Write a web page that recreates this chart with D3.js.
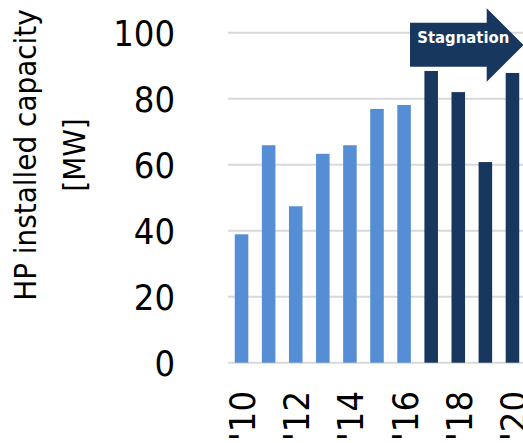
<!DOCTYPE html>
<html>
<head>
<meta charset="utf-8">
<script src="https://cdn.jsdelivr.net/npm/d3@7"></script>
<style>
  html, body { margin: 0; padding: 0; background: #ffffff; overflow: hidden; }
  svg { display: block; }
  text { font-family: "DejaVu Sans Condensed", "DejaVu Sans", sans-serif; font-stretch: condensed; }
</style>
</head>
<body>
<svg id="chart" width="523" height="443"></svg>
<script>
// Heat pump installed capacity by year (MW)
const years = ["2010", "2011", "2012", "2013", "2014", "2015", "2016", "2017", "2018", "2019", "2020"];
const capacity = [38.9, 65.9, 47.4, 63.3, 65.9, 76.9, 78.1, 88.4, 82.0, 60.8, 87.8];
const stagnating = [false, false, false, false, false, false, false, true, true, true, true];
const yTicks = [0, 20, 40, 60, 80, 100];
const xTickYears = ["2010", "2012", "2014", "2016", "2018", "2020"];
const yTitleLines = ["HP installed capacity", "[MW]"];
const arrowLabel = "Stagnation";

const svg = d3.select("#chart");
const C_GROWTH = "#558ed5";
const C_STAG = "#17375e";
const C_GRID = "#d9d9d9";

const plot = { left: 228, right: 526, top: 32.7, bottom: 362.7 };

const x = d3.scaleBand()
  .domain(years)
  .range([plot.left, plot.right])
  .paddingInner(0.5)
  .paddingOuter(0.25);

const y = d3.scaleLinear()
  .domain([0, 100])
  .range([plot.bottom, plot.top]);

// horizontal gridlines
svg.append("g")
  .selectAll("line")
  .data(yTicks)
  .join("line")
  .attr("x1", plot.left)
  .attr("x2", plot.right)
  .attr("y1", d => y(d))
  .attr("y2", d => y(d))
  .attr("stroke", C_GRID)
  .attr("stroke-width", 2);

// y axis labels
const yAxis = d3.axisLeft(y).tickValues(yTicks).tickSize(0).tickPadding(0);
const yg = svg.append("g")
  .attr("transform", "translate(175,0)")
  .call(yAxis);
yg.select(".domain").remove();
yg.selectAll("text")
  .attr("font-size", 36)
  .attr("fill", "#000")
  .attr("dy", "0.36em")
  .style("font-family", "'DejaVu Sans Condensed', 'DejaVu Sans', sans-serif");

// bars
svg.append("g")
  .selectAll("rect")
  .data(years.map((yr, i) => ({ yr, v: capacity[i], s: stagnating[i] })))
  .join("rect")
  .attr("x", d => x(d.yr))
  .attr("width", x.bandwidth())
  .attr("y", d => y(d.v))
  .attr("height", d => y(0) - y(d.v))
  .attr("fill", d => d.s ? C_STAG : C_GROWTH);

// x axis labels, rotated
const xAxis = d3.axisBottom(x)
  .tickValues(xTickYears)
  .tickSize(0)
  .tickFormat(d => "'" + d.slice(2));
const xg = svg.append("g")
  .attr("transform", "translate(0,0)")
  .call(xAxis);
xg.select(".domain").remove();
xg.selectAll(".tick").attr("transform", d => `translate(${x(d) + x.bandwidth() / 2},0)`);
xg.selectAll("text")
  .attr("font-size", 36)
  .attr("fill", "#000")
  .attr("text-anchor", "end")
  .attr("dy", null)
  .attr("y", null)
  .attr("transform", "translate(13.5,391) rotate(-90)")
  .style("font-family", "'DejaVu Sans Condensed', 'DejaVu Sans', sans-serif");

// y axis title
const title = svg.append("text")
  .attr("transform", "translate(0,155) rotate(-90)")
  .attr("text-anchor", "middle")
  .attr("font-size", 31)
  .attr("fill", "#000");
title.append("tspan").attr("x", 0).attr("y", 36).text(yTitleLines[0]);
title.append("tspan").attr("x", 0).attr("y", 85).text(yTitleLines[1]);

// "Stagnation" arrow annotation
const arrow = { x0: 410, x1: 486.7, tip: 523.5, bodyTop: 22.7, bodyBot: 66.7, headTop: 8.3, headBot: 81.7 };
const mid = (arrow.headTop + arrow.headBot) / 2;
svg.append("path")
  .attr("d", [
    "M", arrow.x0, arrow.bodyTop,
    "L", arrow.x1, arrow.bodyTop,
    "L", arrow.x1, arrow.headTop,
    "L", arrow.tip, mid,
    "L", arrow.x1, arrow.headBot,
    "L", arrow.x1, arrow.bodyBot,
    "L", arrow.x0, arrow.bodyBot, "Z"
  ].join(" "))
  .attr("fill", C_STAG);

svg.append("text")
  .attr("x", 463.3)
  .attr("y", 42.7)
  .attr("text-anchor", "middle")
  .attr("font-size", 16.5)
  .attr("font-weight", "bold")
  .attr("fill", "#ffffff")
  .text(arrowLabel);
</script>
</body>
</html>
